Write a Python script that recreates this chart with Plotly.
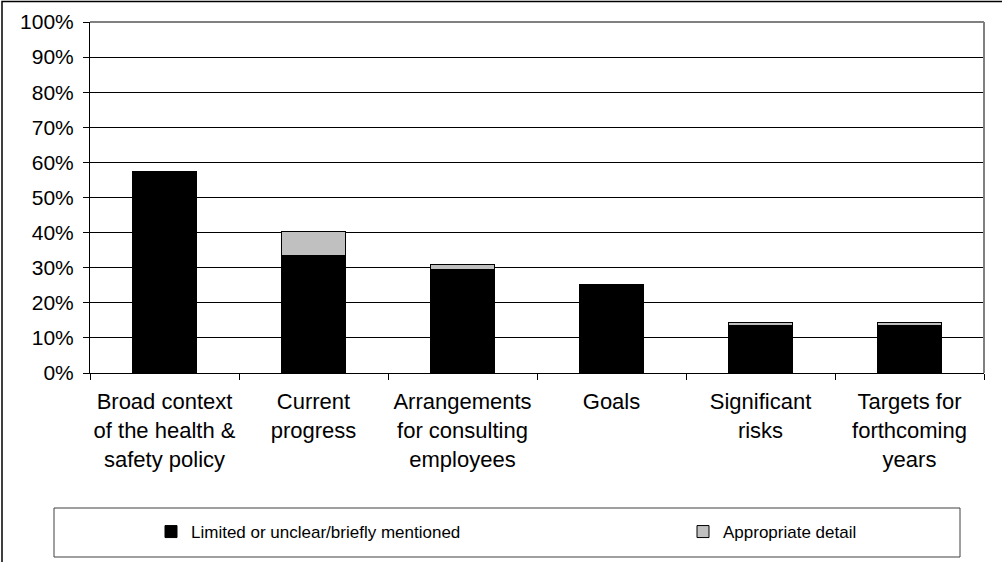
import plotly.graph_objects as go

categories = [
    "Broad context<br>of the health &<br>safety policy",
    "Current<br>progress",
    "Arrangements<br>for consulting<br>employees",
    "Goals",
    "Significant<br>risks",
    "Targets for<br>forthcoming<br>years",
]
limited = [0.573, 0.334, 0.295, 0.253, 0.135, 0.135]
appropriate = [0.0, 0.068, 0.015, 0.0, 0.01, 0.01]
series_names = ["Limited or unclear/briefly mentioned", "Appropriate detail"]
y_ticks = [i / 10 for i in range(11)]

W, H = 1002, 562
L, R, T, B = 90, 18, 22, 189
PW, PH = W - L - R, H - T - B


def px(x):
    return (x - L) / PW


def py(y):
    return (H - B - y) / PH


FONT = "Liberation Sans, Arial, sans-serif"

fig = go.Figure()
fig.add_trace(go.Bar(x=categories, y=limited, name=series_names[0], legend="legend",
                     marker=dict(color="#000000", line=dict(color="#000000", width=1))))
fig.add_trace(go.Bar(x=categories, y=appropriate, name=series_names[1], legend="legend2",
                     marker=dict(color="#C0C0C0", line=dict(color="#000000", width=1))))

shapes = [
    # outer chart border (left/top visible)
    dict(type="rect", xref="paper", yref="paper", x0=px(2), x1=px(1010), y0=py(580), y1=py(1.5),
         line=dict(color="#000000", width=1.5), fillcolor="rgba(0,0,0,0)", layer="below"),
    # plot area top and right border (gray)
    dict(type="line", xref="paper", yref="paper", x0=0, x1=1, y0=1, y1=1,
         line=dict(color="#808080", width=2), layer="above"),
    dict(type="line", xref="paper", yref="paper", x0=1, x1=1, y0=0, y1=1,
         line=dict(color="#808080", width=2), layer="above"),
    # legend box
    dict(type="rect", xref="paper", yref="paper", x0=px(54), x1=px(960), y0=py(557), y1=py(508),
         line=dict(color="#404040", width=1), fillcolor="rgba(0,0,0,0)", layer="below"),
]

legend_common = dict(orientation="h", xanchor="left", y=py(532), yanchor="middle",
                     font=dict(family=FONT, size=17, color="#000000"),
                     bgcolor="rgba(0,0,0,0)", itemwidth=30)

fig.update_layout(
    width=W, height=H,
    margin=dict(l=L, r=R, t=T, b=B, pad=0, autoexpand=False),
    barmode="stack",
    bargap=0.57,
    paper_bgcolor="white",
    plot_bgcolor="white",
    font=dict(family=FONT, size=20, color="#000000"),
    showlegend=True,
    legend=dict(x=px(151), **legend_common),
    legend2=dict(x=px(683), **legend_common),
    shapes=shapes,
)

fig.update_xaxes(
    showline=True, linecolor="#000000", linewidth=1,
    ticks="outside", ticklen=6, tickcolor="#000000", tickson="boundaries",
    tickfont=dict(family=FONT, size=22, color="#000000"),
    tickangle=0,
    ticklabelstandoff=9,
    showgrid=False, fixedrange=True,
)
fig.update_yaxes(
    range=[0, 1], tickvals=y_ticks, tickformat=".0%",
    showline=True, linecolor="#000000", linewidth=1,
    ticks="outside", ticklen=6, tickcolor="#000000",
    ticklabelstandoff=5,
    showgrid=True, gridcolor="#000000", gridwidth=1,
    zeroline=False,
    tickfont=dict(family=FONT, size=21, color="#000000"),
    fixedrange=True,
)

fig.write_html("out.html", config={"displayModeBar": False})
